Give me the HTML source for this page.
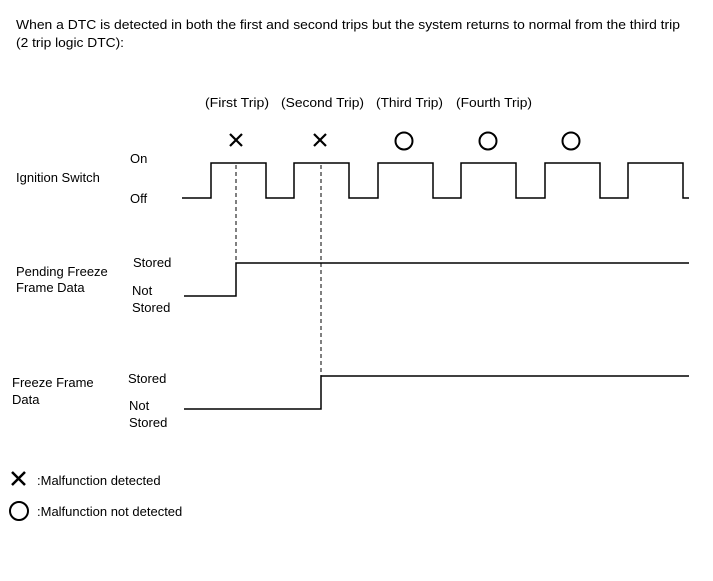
<!DOCTYPE html>
<html><head><style>
html,body{margin:0;padding:0;background:#fff;}
svg{display:block;font-family:"Liberation Sans",Arial,sans-serif;font-size:13px;fill:#000;}
</style></head><body>
<svg width="713" height="581" viewBox="0 0 713 581" xmlns="http://www.w3.org/2000/svg">
<text x="16" y="29" textLength="664" lengthAdjust="spacingAndGlyphs">When a DTC is detected in both the first and second trips but the system returns to normal from the third trip</text>
<text x="16" y="47" textLength="108" lengthAdjust="spacingAndGlyphs">(2 trip logic DTC):</text>
<text x="205" y="107" textLength="64" lengthAdjust="spacingAndGlyphs">(First Trip)</text>
<text x="281" y="107" textLength="83" lengthAdjust="spacingAndGlyphs">(Second Trip)</text>
<text x="376" y="107" textLength="67" lengthAdjust="spacingAndGlyphs">(Third Trip)</text>
<text x="456" y="107" textLength="76" lengthAdjust="spacingAndGlyphs">(Fourth Trip)</text>

<g stroke="#000" stroke-width="2.2" fill="none">
<path d="M230 134 L242 146 M242 134 L230 146"/>
<path d="M314 134 L326 146 M326 134 L314 146"/>
</g>
<g stroke="#000" stroke-width="2" fill="none">
<circle cx="404" cy="141" r="8.5"/>
<circle cx="488" cy="141" r="8.5"/>
<circle cx="571" cy="141" r="8.5"/>
</g>

<g stroke="#000" stroke-width="1.5" fill="none">
<path d="M182 198 H211 V163 H266 V198 H294 V163 H349 V198 H378 V163 H433 V198 H461 V163 H516 V198 H545 V163 H600 V198 H628 V163 H683 V198 H689"/>
<path d="M184 296 H236 V263 H689"/>
<path d="M184 409 H321 V376 H689"/>
</g>
<g stroke="#000" stroke-width="1" stroke-dasharray="4,3" fill="none">
<line x1="236" y1="165" x2="236" y2="263"/>
<line x1="321" y1="165" x2="321" y2="376"/>
</g>

<text x="16" y="182">Ignition Switch</text>
<text x="130" y="163">On</text>
<text x="130" y="203">Off</text>
<text x="16" y="276">Pending Freeze</text>
<text x="16" y="292">Frame Data</text>
<text x="133" y="267">Stored</text>
<text x="132" y="295">Not</text>
<text x="132" y="312">Stored</text>
<text x="12" y="387">Freeze Frame</text>
<text x="12" y="404">Data</text>
<text x="128" y="383">Stored</text>
<text x="129" y="410">Not</text>
<text x="129" y="427">Stored</text>

<path d="M12 472 L25 485 M25 472 L12 485" stroke="#000" stroke-width="2.5" fill="none"/>
<text x="37" y="485">:Malfunction detected</text>
<circle cx="19" cy="511" r="9" stroke="#000" stroke-width="2" fill="none"/>
<text x="37" y="516">:Malfunction not detected</text>
</svg>
</body></html>
